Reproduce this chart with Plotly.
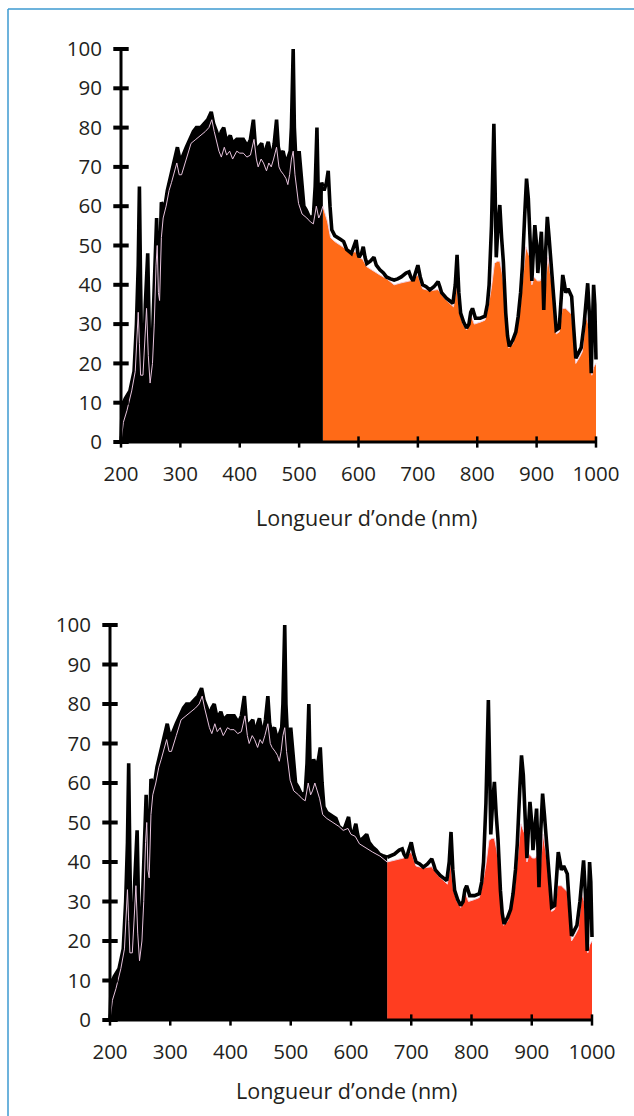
import plotly.graph_objects as go

# ---------------- data ----------------
# outer (black) outline of the spectrum
outline_nm = [200, 202, 207, 215, 222, 226, 229, 231, 233, 235, 238, 241, 245, 247, 249, 252, 255, 258, 260,
              262, 264, 266, 268, 271, 274, 278, 284, 288, 292, 295, 299, 302, 310, 316, 322, 327, 334, 340,
              346, 352, 356, 361, 365, 369, 373, 377, 380, 384, 388, 395, 400, 406, 410, 414, 418, 423, 426,
              428, 432, 437, 440, 442, 445, 448, 451, 454, 458, 462, 465, 468, 473, 476, 479, 482, 485, 487,
              490, 492, 494, 496, 500, 503, 505, 508, 512, 518, 524, 527, 530, 532, 535, 538, 540, 542, 546,
              549, 552, 555, 560, 564, 570, 575, 580, 588, 593, 596, 599, 601, 605, 608, 611, 614, 620, 626,
              630, 636, 642, 647, 654, 660, 666, 672, 680, 685, 688, 692, 696, 700, 704, 708, 714, 720, 727,
              734, 737, 740, 748, 754, 759, 763, 766, 769, 772, 777, 782, 786, 789, 792, 795, 797, 805, 813,
              817, 820, 824, 828, 830, 832, 835, 838, 841, 844, 848, 851, 854, 860, 865, 869, 873, 876, 880,
              883, 886, 889, 892, 895, 897, 900, 902, 905, 908, 910, 912, 915, 918, 921, 925, 929, 933, 938,
              941, 944, 947, 949, 953, 956, 959, 962, 966, 970, 975, 980, 986, 989, 992, 994, 996, 998, 1000]
outline_val = [0, 9, 11, 13, 18, 30, 45, 65, 40, 20, 19, 35, 48, 30, 17, 22, 35, 50, 57,
               45, 39, 50, 61, 60, 60, 64, 68, 71, 73, 75, 72, 72, 75, 77, 79, 80, 80, 81,
               82, 84, 81, 79, 77, 79, 80, 77, 77, 78, 76, 77, 77, 77, 76, 75.6, 77, 82, 76,
               73.5, 75, 76, 73, 73, 75, 76.4, 74, 72, 76, 82, 75, 73, 74, 72, 71.3, 73, 74, 80,
               100, 80, 70, 67, 74, 68, 65, 60, 59, 57, 57.5, 65, 80, 65, 62, 66, 65, 64, 66,
               69, 60, 54, 52.5, 52, 51.5, 51, 49, 48, 50, 51.4, 48, 47, 48, 49.7, 47, 45.4, 46, 47,
               45, 43.8, 43, 42, 41.5, 41.2, 41.5, 42, 43, 43.3, 42, 41, 43, 45, 42, 40, 39.5, 38.7, 39.5,
               40.8, 39.5, 38, 36.6, 36, 35.3, 40, 47.6, 38, 32.8, 30.5, 29, 30, 33, 34, 32, 31.5, 31.5, 32,
               35, 40, 55, 81, 65, 47, 55, 60.3, 52, 45.8, 32.8, 27, 24.3, 26, 28, 32, 38, 44.6, 58,
               67, 62, 53, 41, 50, 55.2, 50, 43, 48, 53.5, 45, 33.6, 48, 57.3, 52, 44.6, 36, 28.5, 29,
               35, 42.5, 40, 38, 39, 38, 37, 30, 21.3, 22.5, 24, 30, 40.4, 32, 17.5, 30, 40, 35, 21]

# inner (light) trace of the spectrum
inner_nm = [200, 204, 210, 218, 224, 227, 229, 231, 233, 237, 241, 243, 246, 249, 253, 256, 259, 261, 263,
            265, 268, 271, 276, 281, 285, 290, 294, 298, 302, 310, 318, 326, 334, 342, 348, 353, 357, 361,
            365, 369, 374, 378, 383, 388, 395, 400, 406, 412, 418, 424, 428, 431, 436, 440, 445, 449, 453,
            457, 462, 466, 469, 474, 478, 481, 484, 487, 490, 493, 496, 499, 505, 513, 519, 524, 529, 533,
            536, 540, 544, 548, 553, 560, 570, 580, 587, 595, 600, 607, 614, 625, 636, 648, 660, 672, 687,
            700, 708, 720, 734, 745, 760, 765, 770, 776, 782, 790, 795, 805, 813, 819, 824, 829, 834, 838,
            842, 845, 849, 853, 860, 866, 872, 877, 882, 886, 889, 892, 896, 901, 906, 909, 912, 916, 919,
            923, 926, 930, 933, 938, 943, 949, 956, 959, 963, 966, 972, 977, 983, 987, 990, 993, 996, 1000]
inner_val = [0, 5, 8, 13, 18, 28, 33, 25, 17, 17, 30, 34, 22, 15, 20, 30, 45, 50, 38,
             36, 52, 57, 60, 64, 66, 69, 71, 68, 68, 72, 76, 77, 78, 79, 80, 82, 79, 76.5,
             74, 72.5, 75, 73, 74, 72, 74, 73.5, 73.5, 72.5, 73, 77, 72, 70, 72, 71, 69, 71, 70,
             72, 75, 70, 69, 68, 67, 65.5, 68, 72, 74, 68, 64, 60.7, 58, 57, 56, 55.5, 60, 57,
             58, 60, 58, 56, 52, 51, 50, 49, 48, 48.5, 47, 46.5, 44.6, 43.5, 42.5, 41.5, 40, 40.5, 41,
             42.5, 39, 38.5, 38.8, 36.5, 34.4, 40, 33, 30, 28.5, 32, 30, 30.5, 31, 35, 39.5, 45.5, 46, 46,
             43, 39.5, 30, 24, 25, 29, 34, 42, 49.7, 48, 47, 40, 42, 41, 41, 42, 34, 42, 47,
             43, 40, 32, 27.5, 28, 34, 34, 33, 32.5, 26, 20, 21.5, 23, 32, 30, 24, 17, 19, 20]

cutoffs = [540, 660]                     # end of the black part (nm), top / bottom chart
fill_colors = ["#ff6a17", "#ff3d20"]     # top / bottom
x_ticks = [200, 300, 400, 500, 600, 700, 800, 900, 1000]
y_ticks = [0, 10, 20, 30, 40, 50, 60, 70, 80, 90, 100]
x_title = "Longueur d’onde (nm)"

# ---------------- layout geometry (pixels) ----------------
W, H = 634, 1116
FONT = "Open Sans"
TXT = "#231f20"
LW = 3.6

# per chart: px of 200nm, px of 1000nm, px of y=0, px of y=100, title centre x, title centre y
geo = [
    dict(x200=121, x1000=596, y0=442, y100=49, tx=367, ty=517),
    dict(x200=110, x1000=592, y0=1020, y100=625, tx=346, ty=1090),
]
XR = [195, 1005]
YR = [-2, 102]

fig = go.Figure()
shapes = []
annotations = []
layout_axes = {}

for i, g in enumerate(geo):
    xs = "" if i == 0 else str(i + 1)
    xa, ya = "x" + xs, "y" + xs
    ppn = (g["x1000"] - g["x200"]) / 800.0
    ppv = (g["y0"] - g["y100"]) / 100.0
    xl = g["x200"] + (XR[0] - 200) * ppn
    xr = g["x200"] + (XR[1] - 200) * ppn
    yb = g["y0"] - (YR[0]) * ppv
    yt = g["y0"] - (YR[1]) * ppv
    c = cutoffs[i]

    # coloured part: filled under the inner trace
    bx = [n for n in inner_nm if n >= c]
    by = [v for n, v in zip(inner_nm, inner_val) if n >= c]
    fig.add_trace(go.Scatter(x=bx, y=by, mode="lines", fill="tozeroy",
                             fillcolor=fill_colors[i], line=dict(color="#f2cfe0", width=1),
                             xaxis=xa, yaxis=ya, showlegend=False, hoverinfo="skip"))
    # black part: filled under the outline
    ax_ = [n for n in outline_nm if n <= c]
    ay_ = [v for n, v in zip(outline_nm, outline_val) if n <= c]
    fig.add_trace(go.Scatter(x=ax_, y=ay_, mode="lines", fill="tozeroy",
                             fillcolor="#000000", line=dict(color="#000000", width=LW),
                             xaxis=xa, yaxis=ya, showlegend=False, hoverinfo="skip"))
    # outline over the coloured part
    ox = [n for n in outline_nm if n >= c]
    oy = [v for n, v in zip(outline_nm, outline_val) if n >= c]
    fig.add_trace(go.Scatter(x=ox, y=oy, mode="lines",
                             line=dict(color="#000000", width=LW),
                             xaxis=xa, yaxis=ya, showlegend=False, hoverinfo="skip"))
    # inner light trace over the black part
    ix = [n for n in inner_nm if n <= c]
    iy = [v for n, v in zip(inner_nm, inner_val) if n <= c]
    fig.add_trace(go.Scatter(x=ix, y=iy, mode="lines",
                             line=dict(color="#e6c3dc", width=1),
                             xaxis=xa, yaxis=ya, showlegend=False, hoverinfo="skip"))

    # axis lines
    shapes.append(dict(type="line", xref=xa, yref=ya, x0=200, x1=200, y0=0, y1=100,
                       line=dict(color="#000000", width=3), layer="above"))
    shapes.append(dict(type="line", xref=xa, yref=ya, x0=200, x1=1000, y0=0, y1=0,
                       line=dict(color="#000000", width=3), layer="above"))
    # tick marks crossing the axes
    fig.add_trace(go.Scatter(x=[200] * len(y_ticks), y=y_ticks, mode="markers",
                             marker=dict(symbol="line-ew", size=11, line=dict(color="#000000", width=4)),
                             xaxis=xa, yaxis=ya, showlegend=False, hoverinfo="skip", cliponaxis=False))
    fig.add_trace(go.Scatter(x=x_ticks, y=[0] * len(x_ticks), mode="markers",
                             marker=dict(symbol="line-ns", size=8, line=dict(color="#000000", width=2.5)),
                             xaxis=xa, yaxis=ya, showlegend=False, hoverinfo="skip", cliponaxis=False))

    layout_axes["xaxis" + xs] = dict(domain=[xl / W, xr / W], range=XR, anchor=ya,
                                     showgrid=False, zeroline=False, showline=False, automargin=False,
                                     tickvals=x_ticks, ticks="", ticklabelstandoff=10,
                                     tickfont=dict(family=FONT, size=20.5, color=TXT))
    layout_axes["yaxis" + xs] = dict(domain=[1 - yb / H, 1 - yt / H], range=YR, anchor=xa,
                                     showgrid=False, zeroline=False, showline=False, automargin=False,
                                     tickvals=y_ticks, ticks="", ticklabelstandoff=15,
                                     tickfont=dict(family=FONT, size=20.5, color=TXT))
    annotations.append(dict(text=x_title, xref="paper", yref="paper",
                            x=g["tx"] / W, y=1 - g["ty"] / H, xanchor="center", yanchor="middle",
                            showarrow=False, font=dict(family=FONT, size=21.5, color=TXT)))

# page frame (top and left edges)
BC = "#3d9ad1"
shapes.append(dict(type="line", xref="paper", yref="paper", x0=8 / W, x1=1, y0=1 - 9 / H, y1=1 - 9 / H,
                   line=dict(color=BC, width=1.5)))
shapes.append(dict(type="line", xref="paper", yref="paper", x0=8 / W, x1=8 / W, y0=0, y1=1 - 9 / H,
                   line=dict(color=BC, width=1.5)))

fig.update_layout(width=W, height=H, autosize=False, showlegend=False,
                  margin=dict(l=0, r=0, t=0, b=0, pad=0, autoexpand=False),
                  paper_bgcolor="white", plot_bgcolor="rgba(0,0,0,0)",
                  shapes=shapes, annotations=annotations, **layout_axes)

fig.write_html("out.html")
